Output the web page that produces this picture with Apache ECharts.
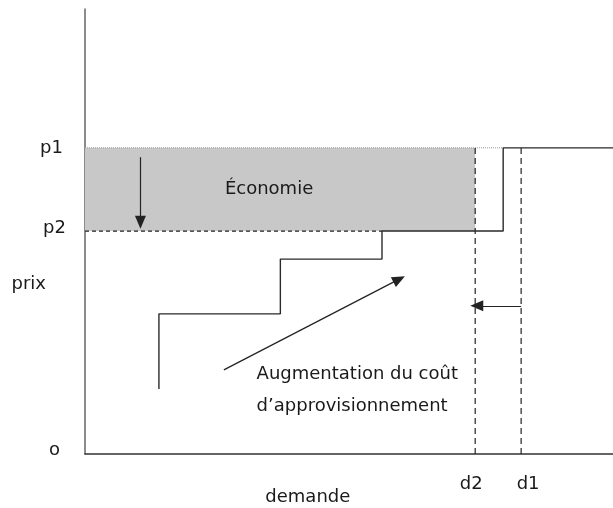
<!DOCTYPE html>
<html><head><meta charset="utf-8">
<script src="https://cdn.jsdelivr.net/npm/echarts@6/dist/echarts.min.js"></script>
<style>html,body{margin:0;padding:0;background:#fff}#c{width:613px;height:508px}</style>
</head><body><div id="c"></div>
<script>
// values (data units: x 0..100 demand, y 0..100 price)
const p1 = 68.8, p2 = 50.1, d2 = 73.9, d1 = 82.6;
const supplyX = [14, 14, 37, 37, 56.25, 56.25, 79.2, 79.2, 100];
const supplyY = [14.6, 31.5, 31.5, 43.8, 43.8, 50.1, 50.1, 68.8, 68.8];
const yTickValues = [0, 38.2, p2, p1];
const yTickLabels = ['o', 'prix', 'p2', 'p1'];
const xTickValues = [42.2, d2, d1];
const xTickLabels = ['demande', 'd2', 'd1'];
const savingArrow = [[10.5, 66.7], [10.5, 52.1]];
const costArrow = [[26.3, 18.9], [59.5, 39.3]];
const demandArrow = [[d1, 33.3], [d2 + 0.3, 33.3]];
const savingText = {x: 26.5, y: 59.5, text: 'Économie'};
const costText = {x: 32.5, y: 14.4, text: 'Augmentation du coût\nd\u2019approvisionnement'};

const FONT = 'DejaVu Sans';
const FS = 18;
const TC = '#1a1a1a';
const supplyData = supplyX.map((x, i) => [x, supplyY[i]]);
const chart = echarts.init(document.getElementById('c'), null, {renderer: 'canvas'});
function arrow(pts) {
  return [{coord: pts[0]}, {coord: pts[1]}];
}
function rs(pad) {
  return {fontFamily: FONT, fontSize: FS, color: TC, padding: pad};
}
chart.setOption({
  animation: false,
  grid: {left: 85, right: 0, top: 9, bottom: 54, containLabel: false, outerBoundsMode: 'none'},
  xAxis: {
    type: 'value', min: 0, max: 100,
    axisLine: {show: true, lineStyle: {color: '#333', width: 1.5}},
    axisTick: {show: false}, splitLine: {show: false},
    axisLabel: {
      customValues: xTickValues, margin: 21, color: TC,
      fontFamily: FONT, fontSize: FS, hideOverlap: false,
      formatter: v => {
        const i = xTickValues.indexOf(v);
        const t = xTickLabels[i];
        return '{' + (t === 'demande' ? 'dm' : t) + '|' + t + '}';
      },
      rich: {
        d2: rs([0, 8, 0, 0]),
        d1: rs([0, 0, 0, 14]),
        dm: rs([13, 0, 0, 0])
      }
    }
  },
  yAxis: {
    type: 'value', min: 0, max: 100,
    axisLine: {show: true, lineStyle: {color: '#666', width: 1.5}},
    axisTick: {show: false}, splitLine: {show: false},
    axisLabel: {
      customValues: yTickValues, margin: 19, color: TC,
      fontFamily: FONT, fontSize: FS, hideOverlap: false,
      formatter: v => {
        const i = yTickValues.indexOf(v);
        const t = yTickLabels[i];
        return '{' + t + '|' + t + '}';
      },
      rich: {
        o: rs([0, 6, 8, 0]),
        prix: rs([0, 20, 0, 0]),
        p2: rs([0, 0, 6, 0]),
        p1: rs([0, 3, 0, 0])
      }
    }
  },
  series: [
    {
      type: 'line', data: [], silent: true, z: 1,
      markArea: {silent: true, itemStyle: {color: '#c8c8c8'},
        data: [[{coord: [0, p1]}, {coord: [d2, p2]}]]}
    },
    {
      type: 'line', data: [[0, p1], [79.2, p1]], symbol: 'none', silent: true, z: 2,
      lineStyle: {color: '#9a9a9a', width: 1, type: [1, 1]}
    },
    {
      type: 'line', data: [[0, p2], [56.25, p2]], symbol: 'none', silent: true, z: 3,
      lineStyle: {color: '#222', width: 1.2, type: [4, 3]}
    },
    {
      type: 'line', data: [[d2, 0], [d2, p1]], symbol: 'none', silent: true, z: 3,
      lineStyle: {color: '#222', width: 1.2, type: [6, 4]}
    },
    {
      type: 'line', data: [[d1, 0], [d1, p1]], symbol: 'none', silent: true, z: 3,
      lineStyle: {color: '#222', width: 1.2, type: [6, 4]}
    },
    {
      type: 'line', data: supplyData, symbol: 'none', silent: true, z: 4,
      lineStyle: {color: '#2a2a2a', width: 1.4}
    },
    {
      type: 'line', data: [], silent: true, z: 5,
      markLine: {
        silent: true, symbol: ['none', 'triangle'], symbolSize: [11, 13],
        label: {show: false},
        lineStyle: {color: '#222', width: 1.2, type: 'solid'},
        data: [arrow(savingArrow), arrow(costArrow), arrow(demandArrow)]
      }
    },
    {
      type: 'scatter', silent: true, z: 6, symbolSize: 0,
      itemStyle: {opacity: 1},
      data: [[savingText.x, savingText.y, savingText.text], [costText.x, costText.y, costText.text]],
      label: {
        show: true, position: 'right', distance: 0, opacity: 1,
        formatter: p => p.data[2],
        fontFamily: FONT, fontSize: FS, color: TC, lineHeight: 32, align: 'left'
      }
    }
  ]
});
</script></body></html>
